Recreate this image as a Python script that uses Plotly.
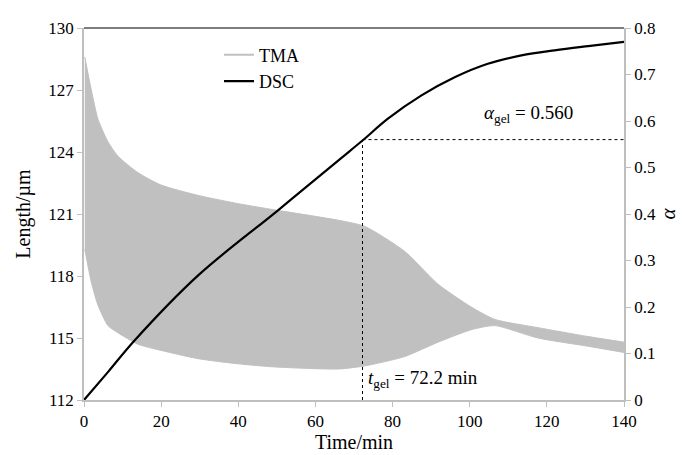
import plotly.graph_objects as go

# ---- data ----
tma_time = [0.2, 1.9, 3.6, 6.2, 8.8, 14.0, 20.0, 29.6, 40.0, 49.4, 65.9, 72.8, 83.1, 91.8, 100.4, 106.5, 117.7, 130.7, 140.0]
tma_upper = [128.6, 127.0, 125.6, 124.5, 123.8, 123.0, 122.4, 121.9, 121.5, 121.2, 120.7, 120.4, 119.2, 117.6, 116.5, 115.9, 115.5, 115.07, 114.8]
tma_lower = [119.3, 117.7, 116.6, 115.6, 115.25, 114.7, 114.4, 114.0, 113.75, 113.6, 113.5, 113.65, 114.1, 114.8, 115.4, 115.6, 115.0, 114.6, 114.3]

dsc_time = [0, 6.2, 13.1, 29.6, 50.3, 65.9, 72.2, 78.8, 87.5, 96.1, 104.7, 113.4, 122.0, 130.7, 140.0]
dsc_alpha = [0, 0.060, 0.128, 0.268, 0.408, 0.515, 0.558, 0.605, 0.655, 0.694, 0.723, 0.741, 0.752, 0.761, 0.770]

t_gel = 72.2
alpha_gel = 0.560

x_ticks = [0, 20, 40, 60, 80, 100, 120, 140]
len_ticks = [112, 115, 118, 121, 124, 127, 130]
alpha_ticks = [0, 0.1, 0.2, 0.3, 0.4, 0.5, 0.6, 0.7, 0.8]
alpha_ticktext = ["0", "0.1", "0.2", "0.3", "0.4", "0.5", "0.6", "0.7", "0.8"]

FONT = "Times New Roman, Liberation Serif, serif"
GRAY = "#c0c0c0"
AXIS = "#bfbfbf"

fig = go.Figure()

# TMA band (filled between envelopes)
fig.add_trace(go.Scatter(x=tma_time, y=tma_lower, mode="lines",
                         line=dict(color=GRAY, width=1, shape="spline", smoothing=0.6),
                         showlegend=False, hoverinfo="skip"))
fig.add_trace(go.Scatter(x=tma_time, y=tma_upper, mode="lines",
                         line=dict(color=GRAY, width=1, shape="spline", smoothing=0.6),
                         fill="tonexty", fillcolor=GRAY, showlegend=False,
                         hoverinfo="skip"))
# legend entries
fig.add_trace(go.Scatter(x=[None], y=[None], mode="lines", name="TMA",
                         line=dict(color=GRAY, width=2)))
fig.add_trace(go.Scatter(x=dsc_time, y=dsc_alpha, mode="lines", name="DSC",
                         line=dict(color="black", width=2.2, shape="spline", smoothing=1),
                         yaxis="y2"))

# gel point dashed lines
fig.add_trace(go.Scatter(x=[t_gel, t_gel], y=[0, alpha_gel], mode="lines",
                         line=dict(color="black", width=1, dash="dot"),
                         yaxis="y2", showlegend=False, hoverinfo="skip"))
fig.add_trace(go.Scatter(x=[t_gel, 140], y=[alpha_gel, alpha_gel], mode="lines",
                         line=dict(color="black", width=1, dash="dot"),
                         yaxis="y2", showlegend=False, hoverinfo="skip"))

fig.add_annotation(x=t_gel + 0.8, y=0.014, xref="x", yref="y2",
                   text="<i>t</i><sub>gel</sub> = 72.2 min", showarrow=False,
                   xanchor="left", yanchor="bottom",
                   font=dict(family=FONT, size=19, color="black"))
fig.add_annotation(x=127.3, y=alpha_gel + 0.026, xref="x", yref="y2",
                   text="<i>α</i><sub>gel</sub> = 0.560", showarrow=False,
                   xanchor="right", yanchor="bottom",
                   font=dict(family=FONT, size=19, color="black"))

# top border line
fig.add_shape(type="line", xref="paper", yref="paper", x0=0, x1=1, y0=1, y1=1,
              line=dict(color="#505050", width=1.5))

fig.update_layout(
    width=685, height=455,
    margin=dict(l=76, r=69, t=11, b=63),
    paper_bgcolor="white", plot_bgcolor="white",
    font=dict(family=FONT, size=17, color="black"),
    showlegend=True,
    legend=dict(x=0.25, y=0.977, xanchor="left", yanchor="top", traceorder="normal",
                bgcolor="rgba(0,0,0,0)", font=dict(family=FONT, size=18),
                itemwidth=30, tracegroupgap=0),
    xaxis=dict(range=[0, 140], tickvals=x_ticks, showgrid=False, zeroline=False,
               showline=True, linecolor=AXIS, linewidth=1.5,
               ticks="outside", tickcolor=AXIS, ticklen=5,
               tickfont=dict(family=FONT, size=17),
               title=dict(text="Time/min", font=dict(family=FONT, size=20), standoff=2)),
    yaxis=dict(range=[112, 130], tickvals=len_ticks, showgrid=False, zeroline=False,
               showline=True, linecolor=AXIS, linewidth=1.5,
               ticks="outside", tickcolor=AXIS, ticklen=5,
               tickfont=dict(family=FONT, size=17),
               title=dict(text="Length/µm", font=dict(family=FONT, size=20), standoff=12)),
    yaxis2=dict(range=[0, 0.8], tickvals=alpha_ticks, ticktext=alpha_ticktext,
                overlaying="y", side="right", showgrid=False, zeroline=False,
                showline=True, linecolor=AXIS, linewidth=1.5,
                ticks="outside", tickcolor=AXIS, ticklen=5,
                tickfont=dict(family=FONT, size=17),
                title=dict(text="<i>α</i>", font=dict(family=FONT, size=21), standoff=3)),
)

fig.write_html("out.html")
